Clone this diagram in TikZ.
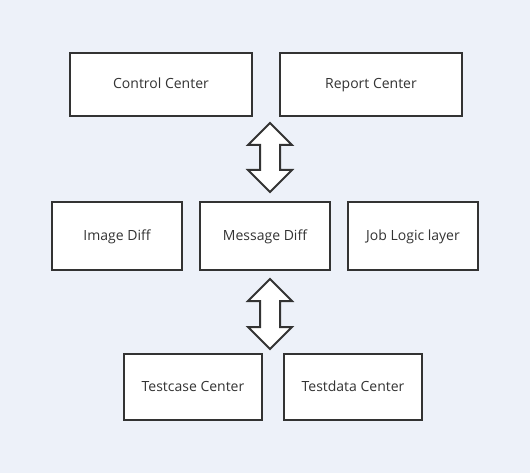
\documentclass[tikz,border=0pt]{standalone}
\usepackage{fontspec}
\setmainfont{Open Sans}
\usepackage{tikz}
\usetikzlibrary{shapes.arrows}
\definecolor{bgblue}{HTML}{EDF1F9}
\definecolor{darkline}{HTML}{333333}

\begin{document}
\begin{tikzpicture}[x=1pt,y=-1pt,
	box/.style={rectangle,draw=darkline,fill=white,line width=2pt,text=darkline,font=\fontsize{14}{16}\selectfont,text height=10pt,text depth=1pt},
	bigbox/.style={box,minimum width=182pt,minimum height=63pt},
	midbox/.style={box,minimum width=130pt,minimum height=68pt},
	lowbox/.style={box,minimum width=138pt,minimum height=66pt},
	twoway/.style={double arrow,rotate=90,draw=darkline,fill=white,line width=2pt,inner xsep=0pt,inner ysep=9pt,minimum width=42pt,double arrow head extend=12pt}]
				\fill[bgblue] (0,0) rectangle (530,473);
				\useasboundingbox (0,0) rectangle (530,473);
				\path 
				(161,84.5) node(cc) [bigbox] {Control Center}
				(371,84.5) node(rc) [bigbox] {Report Center}
				(117,236) node(id) [midbox] {Image Diff}
				(265,236) node(md) [midbox] {Message Diff}
				(413,236) node(jl) [midbox] {Job Logic layer}
				(193,387) node(tc) [lowbox] {Testcase Center}
				(353,387) node(td) [lowbox] {Testdata Center};
				\path
				(270,157.5) node(up) [twoway,minimum height=69pt] {}
				(270,314) node(down) [twoway,minimum height=70pt] {};
			\end{tikzpicture}
\end{document}
